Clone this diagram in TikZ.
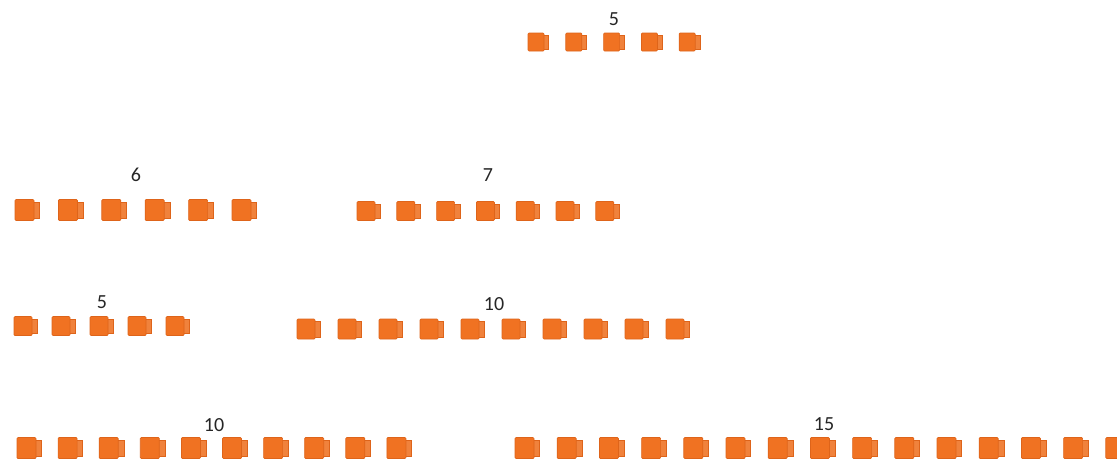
\documentclass[tikz,border=0pt]{standalone}
\usepackage{fontspec}
\setmainfont{Carlito}
\definecolor{frontc}{RGB}{240,114,34}
\definecolor{edgec}{RGB}{222,100,26}
\definecolor{sidec}{RGB}{240,130,60}
\tikzset{
  frontf/.style={fill=frontc,draw=edgec,line width=0.7pt,rounded corners=1pt},
  sidef/.style={fill=sidec,draw=edgec,line width=0.7pt},
  lbl/.style={font=\fontsize{20}{21}\selectfont,text=black!85,inner sep=0pt}
}
\newcommand\cubeblk[4]{%
  \filldraw[sidef] ({#1+#3-1},{#2-0.37*#4}) rectangle ({#1+1.3*#3},{#2+0.4*#4});
  \filldraw[frontf] ({#1},{#2-#4/2}) rectangle ({#1+#3},{#2+#4/2});}
\begin{document}
\begin{tikzpicture}[x=1pt,y=-1pt]
\useasboundingbox[fill=white] (0,0) rectangle (1117,461);
% row 1
\foreach \i in {0,...,4} {\cubeblk{528+\i*37.8}{42}{16}{18}}
\node[lbl] (l1) at (614,19) {5};
% row 2
\foreach \i in {0,...,5} {\cubeblk{15+\i*43.4}{210}{19}{21}}
\node[lbl] (l2) at (136,175) {6};
\foreach \i in {0,...,6} {\cubeblk{357+\i*39.8}{211}{18}{19}}
\node[lbl] (l3) at (488,175) {7};
% row 3
\foreach \i in {0,...,4} {\cubeblk{14+\i*38}{326}{18}{19}}
\node[lbl] (l4) at (102,302) {5};
\foreach \i in {0,...,9} {\cubeblk{297+\i*41}{329}{18}{20}}
\node[lbl] (l5) at (494,304) {10};
% row 4
\foreach \i in {0,...,9} {\cubeblk{17+\i*41.1}{448}{19}{21}}
\node[lbl] (l6) at (214,425) {10};
\foreach \i in {0,...,14} {\cubeblk{515+\i*42.2}{448}{19}{21}}
\node[lbl] (l7) at (824,424) {15};
\end{tikzpicture}
\end{document}
